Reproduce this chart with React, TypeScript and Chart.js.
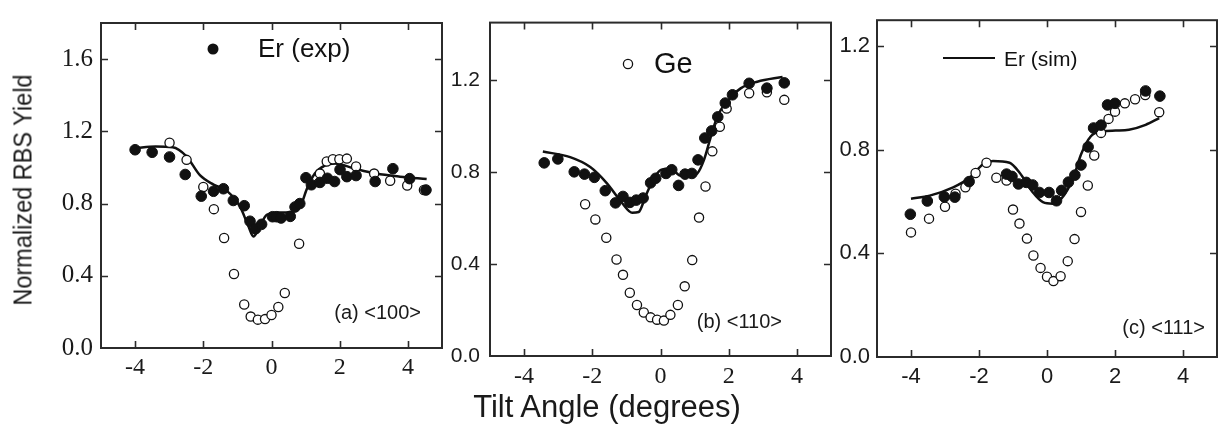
import React, { useEffect, useRef } from "react";
import { Chart, registerables } from "chart.js";

Chart.register(...registerables);

// ---------- tick values ----------
const xTickValues = [-4, -2, 0, 2, 4];
const yTicksA = [0, 0.4, 0.8, 1.2, 1.6];
const yTicksB = [0, 0.4, 0.8, 1.2];
const yTicksC = [0, 0.4, 0.8, 1.2];

// ---------- panel (a) <100> ----------
const aErExpX = [-4.0, -3.5, -2.99, -2.53, -2.06, -1.7, -1.41, -1.12, -0.8, -0.63, -0.46, -0.29, 0.03, 0.15, 0.28, 0.55, 0.69, 0.83, 1.01, 1.17, 1.42, 1.64, 1.85, 2.01, 2.21, 2.48, 3.04, 3.56, 4.05, 4.53];
const aErExpY = [1.098, 1.084, 1.058, 0.961, 0.841, 0.868, 0.882, 0.817, 0.788, 0.702, 0.662, 0.685, 0.727, 0.727, 0.72, 0.729, 0.781, 0.8, 0.943, 0.904, 0.917, 0.94, 0.922, 0.988, 0.949, 0.955, 0.922, 0.993, 0.938, 0.875];
const aGeX = [-2.99, -2.49, -2.0, -1.69, -1.39, -1.1, -0.8, -0.61, -0.48, -0.4, -0.19, 0.0, 0.2, 0.39, 0.81, 1.42, 1.62, 1.8, 1.99, 2.21, 2.48, 3.01, 3.48, 3.98, 4.47];
const aGeY = [1.137, 1.042, 0.892, 0.769, 0.609, 0.41, 0.241, 0.174, 0.658, 0.157, 0.16, 0.183, 0.227, 0.305, 0.577, 0.966, 1.033, 1.045, 1.045, 1.049, 1.005, 0.966, 0.926, 0.9, 0.875];
const aSimX = [-4.0, -3.4, -2.9, -2.5, -2.1, -1.7, -1.3, -0.92, -0.68, -0.53, -0.38, -0.14, 0.25, 0.64, 0.88, 1.03, 1.27, 1.56, 1.86, 2.39, 3.07, 3.77, 4.55];
const aSimY = [1.107, 1.116, 1.112, 1.063, 0.957, 0.905, 0.869, 0.781, 0.676, 0.618, 0.658, 0.737, 0.75, 0.755, 0.8, 0.878, 0.966, 1.01, 1.022, 0.996, 0.966, 0.949, 0.936];

// ---------- panel (b) <110> ----------
const bErExpX = [-3.41, -3.01, -2.53, -2.23, -1.94, -1.62, -1.32, -1.1, -0.9, -0.71, -0.51, -0.29, -0.14, 0.16, 0.33, 0.53, 0.72, 0.92, 1.1, 1.3, 1.5, 1.68, 1.9, 2.11, 2.6, 3.12, 3.63];
const bErExpY = [0.84, 0.857, 0.801, 0.791, 0.777, 0.719, 0.666, 0.694, 0.668, 0.678, 0.687, 0.753, 0.773, 0.794, 0.81, 0.742, 0.791, 0.794, 0.853, 0.948, 0.979, 1.04, 1.1, 1.136, 1.186, 1.165, 1.188];
const bGeX = [-2.21, -1.91, -1.59, -1.29, -1.1, -0.9, -0.69, -0.49, -0.29, -0.1, 0.1, 0.29, 0.51, 0.71, 0.93, 1.13, 1.32, 1.52, 1.74, 1.94, 2.6, 3.12, 3.63];
const bGeY = [0.66, 0.594, 0.514, 0.42, 0.353, 0.275, 0.222, 0.189, 0.168, 0.158, 0.154, 0.179, 0.222, 0.303, 0.417, 0.602, 0.737, 0.89, 0.997, 1.076, 1.143, 1.147, 1.114];
const bSimX = [-3.45, -2.65, -2.06, -1.57, -1.13, -0.83, -0.64, -0.44, -0.22, 0.0, 0.29, 0.54, 0.83, 1.08, 1.27, 1.47, 1.67, 1.96, 2.35, 2.84, 3.58];
const bSimY = [0.889, 0.865, 0.822, 0.751, 0.666, 0.623, 0.626, 0.694, 0.765, 0.808, 0.815, 0.787, 0.78, 0.794, 0.851, 0.951, 1.043, 1.107, 1.164, 1.193, 1.214];

// ---------- panel (c) <111> ----------
const cErExpX = [-4.02, -3.52, -3.02, -2.71, -2.29, -1.19, -1.03, -0.84, -0.61, -0.42, -0.22, 0.06, 0.28, 0.43, 0.63, 0.82, 1.0, 1.21, 1.37, 1.59, 1.78, 2.0, 2.9, 3.32];
const cErExpY = [0.551, 0.602, 0.618, 0.617, 0.677, 0.706, 0.697, 0.668, 0.674, 0.664, 0.635, 0.635, 0.603, 0.643, 0.675, 0.702, 0.741, 0.811, 0.884, 0.895, 0.973, 0.979, 1.027, 1.007];
const cGeX = [-4.0, -3.47, -3.0, -2.69, -2.4, -2.1, -1.78, -1.49, -1.19, -1.0, -0.81, -0.59, -0.4, -0.19, 0.0, 0.19, 0.4, 0.61, 0.81, 1.0, 1.2, 1.39, 1.59, 1.81, 2.0, 2.29, 2.59, 2.89, 3.3];
const cGeY = [0.481, 0.534, 0.58, 0.63, 0.655, 0.71, 0.75, 0.692, 0.681, 0.569, 0.515, 0.457, 0.392, 0.344, 0.31, 0.293, 0.312, 0.37, 0.455, 0.56, 0.662, 0.778, 0.865, 0.919, 0.947, 0.979, 0.995, 1.011, 0.945];
const cSimX = [-4.0, -3.45, -2.76, -2.27, -1.88, -1.59, -1.1, -0.81, -0.42, -0.12, 0.17, 0.42, 0.76, 1.0, 1.29, 1.63, 2.02, 2.41, 2.9, 3.3];
const cSimY = [0.611, 0.623, 0.655, 0.693, 0.744, 0.757, 0.75, 0.712, 0.636, 0.598, 0.592, 0.611, 0.687, 0.782, 0.852, 0.871, 0.874, 0.877, 0.896, 0.922];

const INK = "#111";
const FRAME = "#2b2b2b";
const SANS = "'Liberation Sans', Arial, sans-serif";
const SERIF = "'Liberation Serif', 'Times New Roman', serif";

const zip = (xs: number[], ys: number[]) => xs.map((x, i) => ({ x, y: ys[i] }));

type Panel = {
  left: number;
  width: number;
  height: number;
  yAxisWidth: number;
  xAxisHeight: number;
  padTop: number;
  padRight: number;
  yMax: number;
  yTicks: number[];
  yFont: { family: string; size: number };
  xFont: { family: string; size: number };
  yPad: number;
  xPad: number;
  exp: { x: number; y: number }[];
  ge: { x: number; y: number }[];
  sim: { x: number; y: number }[];
  legend: { kind: "filled" | "open" | "line"; mx: number; my: number; text: string; tx: number; ty: number; size: number };
  note: { text: string; x: number; y: number };
};

const panels: Panel[] = [
  {
    left: 0, width: 446, height: 400, yAxisWidth: 101, xAxisHeight: 52, padTop: 7, padRight: 4,
    yMax: 1.8, yTicks: yTicksA,
    yFont: { family: SERIF, size: 25 }, xFont: { family: SERIF, size: 24 }, yPad: 8, xPad: 5,
    exp: zip(aErExpX, aErExpY), ge: zip(aGeX, aGeY), sim: zip(aSimX, aSimY),
    legend: { kind: "filled", mx: 213, my: 49, text: "Er (exp)", tx: 258, ty: 50, size: 26 },
    note: { text: "(a) <100>", x: 421, y: 313 },
  },
  {
    left: 442, width: 393, height: 400, yAxisWidth: 48, xAxisHeight: 44, padTop: 17, padRight: 4,
    yMax: 1.45, yTicks: yTicksB,
    yFont: { family: SANS, size: 21 }, xFont: { family: SERIF, size: 24 }, yPad: 10, xPad: 6,
    exp: zip(bErExpX, bErExpY), ge: zip(bGeX, bGeY), sim: zip(bSimX, bSimY),
    legend: { kind: "open", mx: 628, my: 64, text: "Ge", tx: 654, ty: 65, size: 29 },
    note: { text: "(b) <110>", x: 782, y: 322 },
  },
  {
    left: 835, width: 383, height: 400, yAxisWidth: 42, xAxisHeight: 43, padTop: 16, padRight: 1,
    yMax: 1.3, yTicks: yTicksC,
    yFont: { family: SANS, size: 22 }, xFont: { family: SANS, size: 22 }, yPad: 7, xPad: 7,
    exp: zip(cErExpX, cErExpY), ge: zip(cGeX, cGeY), sim: zip(cSimX, cSimY),
    legend: { kind: "line", mx: 943, my: 58, text: "Er (sim)", tx: 1004, ty: 60, size: 21 },
    note: { text: "(c) <111>", x: 1205, y: 328 },
  },
];

function makeDeco(p: Panel) {
  return {
    id: "deco",
    afterDraw(chart: any) {
      const ctx = chart.ctx as CanvasRenderingContext2D;
      const { left, right, top, bottom } = chart.chartArea;
      const xs = chart.scales.x;
      const ys = chart.scales.y;
      const off = p.left;
      ctx.save();
      // frame
      ctx.strokeStyle = FRAME;
      ctx.lineWidth = 2;
      ctx.strokeRect(left, top, right - left, bottom - top);
      // inward ticks
      const tl = 7;
      ctx.beginPath();
      xTickValues.forEach((v) => {
        const px = Math.round(xs.getPixelForValue(v)) + 0.5;
        ctx.moveTo(px, bottom);
        ctx.lineTo(px, bottom - tl);
        ctx.moveTo(px, top);
        ctx.lineTo(px, top + tl);
      });
      p.yTicks.forEach((v) => {
        if (v === 0) return;
        const py = Math.round(ys.getPixelForValue(v)) + 0.5;
        ctx.moveTo(left, py);
        ctx.lineTo(left + tl, py);
        ctx.moveTo(right, py);
        ctx.lineTo(right - tl, py);
      });
      ctx.lineWidth = 1.6;
      ctx.stroke();

      // legend entry
      const lg = p.legend;
      ctx.fillStyle = INK;
      ctx.strokeStyle = INK;
      if (lg.kind === "filled") {
        ctx.beginPath();
        ctx.arc(lg.mx - off, lg.my, 5.5, 0, Math.PI * 2);
        ctx.fill();
      } else if (lg.kind === "open") {
        ctx.beginPath();
        ctx.arc(lg.mx - off, lg.my, 4.6, 0, Math.PI * 2);
        ctx.fillStyle = "#fff";
        ctx.fill();
        ctx.lineWidth = 1.3;
        ctx.stroke();
        ctx.fillStyle = INK;
      } else {
        ctx.beginPath();
        ctx.moveTo(lg.mx - off, lg.my);
        ctx.lineTo(lg.mx - off + 52, lg.my);
        ctx.lineWidth = 2.2;
        ctx.stroke();
      }
      ctx.font = `${lg.size}px ${SANS}`;
      ctx.textAlign = "left";
      ctx.textBaseline = "middle";
      ctx.fillText(lg.text, lg.tx - off, lg.ty);

      // panel label
      ctx.font = `20px ${SANS}`;
      ctx.textAlign = "right";
      ctx.fillStyle = "#1a1a1a";
      ctx.fillText(p.note.text, p.note.x - off, p.note.y);
      ctx.restore();
    },
  };
}

function PanelChart({ p }: { p: Panel }) {
  const ref = useRef<HTMLCanvasElement | null>(null);
  useEffect(() => {
    if (!ref.current) return;
    const chart = new Chart(ref.current, {
      type: "scatter",
      data: {
        datasets: [
          {
            type: "scatter",
            label: "Er (exp)",
            data: p.exp,
            pointRadius: 5.3,
            pointBackgroundColor: INK,
            pointBorderColor: INK,
            pointBorderWidth: 1,
          },
          {
            type: "scatter",
            label: "Ge",
            data: p.ge,
            pointRadius: 4.6,
            pointBackgroundColor: "#fff",
            pointBorderColor: INK,
            pointBorderWidth: 1.3,
          },
          {
            type: "line",
            label: "Er (sim)",
            data: p.sim,
            borderColor: INK,
            borderWidth: 2.5,
            pointRadius: 0,
            fill: false,
            cubicInterpolationMode: "monotone",
          },
        ],
      } as any,
      options: {
        animation: false,
        responsive: false,
        maintainAspectRatio: false,
        events: [],
        layout: { padding: { top: p.padTop, right: p.padRight, bottom: 0, left: 0 }, autoPadding: false } as any,
        plugins: { legend: { display: false }, tooltip: { enabled: false } },
        scales: {
          x: {
            type: "linear",
            min: -5,
            max: 5,
            grid: { display: false, drawTicks: false },
            border: { display: false },
            ticks: {
              font: p.xFont,
              color: "#1a1a1a",
              padding: p.xPad,
              maxRotation: 0,
              callback: (v: any) => String(v),
            },
            afterBuildTicks: (s: any) => {
              s.ticks = xTickValues.map((v) => ({ value: v }));
            },
            afterFit: (s: any) => {
              s.height = p.xAxisHeight;
            },
          },
          y: {
            type: "linear",
            min: 0,
            max: p.yMax,
            grid: { display: false, drawTicks: false },
            border: { display: false },
            ticks: {
              font: p.yFont,
              color: "#1a1a1a",
              padding: p.yPad,
              callback: (v: any) => Number(v).toFixed(1),
            },
            afterBuildTicks: (s: any) => {
              s.ticks = p.yTicks.map((v) => ({ value: v }));
            },
            afterFit: (s: any) => {
              s.width = p.yAxisWidth;
            },
          },
        },
      } as any,
      plugins: [makeDeco(p)],
    });
    return () => chart.destroy();
  }, [p]);
  return (
    <canvas
      ref={ref}
      width={p.width}
      height={p.height}
      style={{ position: "absolute", left: p.left, top: 0, width: p.width, height: p.height }}
    />
  );
}

export default function App() {
  return (
    <div
      style={{
        position: "fixed",
        left: 0,
        top: 0,
        width: 1218,
        height: 436,
        background: "#fff",
        overflow: "hidden",
      }}
    >
      {panels.map((p, i) => (
        <PanelChart key={i} p={p} />
      ))}
      <div
        style={{
          position: "absolute",
          left: 23,
          top: 190,
          transform: "translate(-50%, -50%) rotate(-90deg) scaleX(0.94)",
          whiteSpace: "nowrap",
          fontFamily: SANS,
          fontSize: 25,
          lineHeight: "25px",
          color: "#1a1a1a",
        }}
      >
        Normalized RBS Yield
      </div>
      <div
        style={{
          position: "absolute",
          left: 607,
          top: 391,
          transform: "translateX(-50%)",
          whiteSpace: "nowrap",
          fontFamily: SANS,
          fontSize: 31,
          lineHeight: "31px",
          color: "#1a1a1a",
        }}
      >
        Tilt Angle (degrees)
      </div>
    </div>
  );
}
